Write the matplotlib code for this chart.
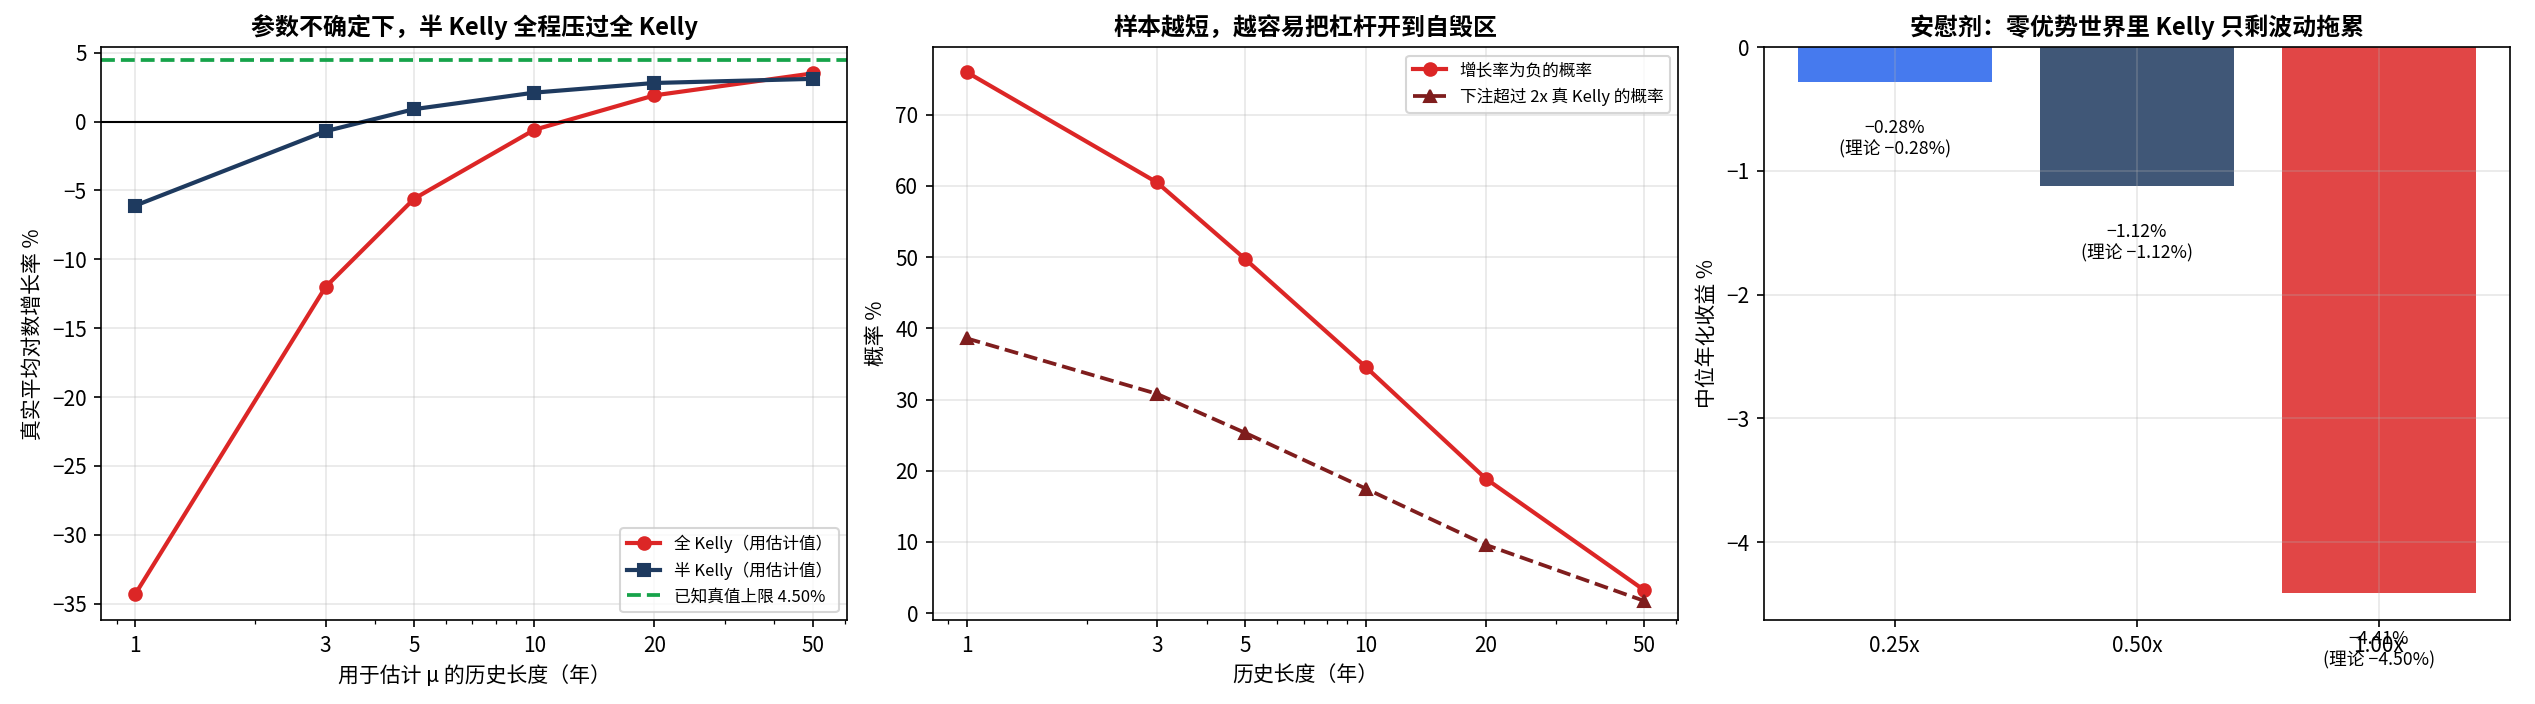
import numpy as np
import matplotlib
matplotlib.use("Agg")
from matplotlib import pyplot, ticker

pyplot.rcParams['font.family'] = ['Noto Sans CJK SC', 'DejaVu Sans']
pyplot.rcParams['axes.unicode_minus'] = True

# history length in years
years = [1, 3, 5, 10, 20, 50]

# panel 1: true mean log growth %
full_kelly = [-34.3, -12.0, -5.6, -0.6, 1.9, 3.5]
half_kelly = [-6.1, -0.7, 0.9, 2.1, 2.8, 3.1]
true_cap = 4.50

# panel 2: probabilities %
p_negative = [76.0, 60.5, 49.7, 34.6, 18.9, 3.2]
p_over_2x = [38.6, 30.8, 25.3, 17.5, 9.6, 1.7]

# panel 3: zero edge world
bet_labels = ['0.25x', '0.50x', '1.00x']
median_ret = [-0.28, -1.12, -4.41]
theory_ret = [-0.28, -1.12, -4.50]

RED = '#dc2626'
NAVY = '#1e3a5f'
GREEN = '#16a34a'
DARKRED = '#7f1d1d'
BLUE = '#2563eb'

fig, (ax1, ax2, ax3) = pyplot.subplots(1, 3, figsize=(2535/150, 704/150), dpi=150)
fig.subplots_adjust(left=0.04, right=0.99, top=0.933, bottom=0.119, wspace=0.115)

def log_years(ax):
    ax.set_xscale('log')
    ax.set_xticks(years)
    ax.xaxis.set_major_formatter(ticker.ScalarFormatter())
    ax.xaxis.set_minor_formatter(ticker.NullFormatter())

def pct(v):
    # same minus glyph as the tick labels
    return f'{v:.2f}%'.replace('-', '\u2212')

# ---- panel 1
ax1.plot(years, full_kelly, marker='o', color=RED, lw=2, ms=6, label='全 Kelly（用估计值）')
ax1.plot(years, half_kelly, marker='s', color=NAVY, lw=2, ms=6, label='半 Kelly（用估计值）')
ax1.axhline(true_cap, color=GREEN, ls='--', lw=1.8, label=f'已知真值上限 {true_cap:.2f}%')
ax1.axhline(0, color='black', lw=1)
log_years(ax1)
ax1.set_ylim(-36.2, 5.4)
ax1.set_xlabel('用于估计 μ 的历史长度（年）')
ax1.set_ylabel('真实平均对数增长率 %')
ax1.set_title('参数不确定下，半 Kelly 全程压过全 Kelly', fontweight='bold', fontsize=11.5)
ax1.grid(alpha=0.3)
ax1.legend(loc='lower right', fontsize=8)

# ---- panel 2
ax2.plot(years, p_negative, marker='o', color=RED, lw=2, ms=6, label='增长率为负的概率')
ax2.plot(years, p_over_2x, marker='^', color=DARKRED, lw=1.8, ls='--', ms=6,
         label='下注超过 2x 真 Kelly 的概率')
log_years(ax2)
ax2.set_ylim(-1.0, 79.5)
ax2.set_xlabel('历史长度（年）')
ax2.set_ylabel('概率 %')
ax2.set_title('样本越短，越容易把杠杆开到自毁区', fontweight='bold', fontsize=11.5)
ax2.grid(alpha=0.3)
ax2.legend(loc='upper right', fontsize=8)

# ---- panel 3
bar_colors = [BLUE, NAVY, RED]
xpos = np.arange(len(bet_labels))
ax3.bar(xpos, median_ret, color=bar_colors, alpha=0.85, width=0.8)
for x, v, t in zip(xpos, median_ret, theory_ret):
    ax3.text(x, v - 0.3, f'{pct(v)}\n(理论 {pct(t)})', ha='center', va='top', fontsize=8.5)
ax3.set_xticks(xpos)
ax3.set_xticklabels(bet_labels)
ax3.set_ylim(min(median_ret) * 1.05, 0)
ax3.set_ylabel('中位年化收益 %')
ax3.set_title('安慰剂：零优势世界里 Kelly 只剩波动拖累', fontweight='bold', fontsize=11.5)
ax3.grid(alpha=0.3)

fig.savefig('out.png', dpi=150)
pyplot.close()
